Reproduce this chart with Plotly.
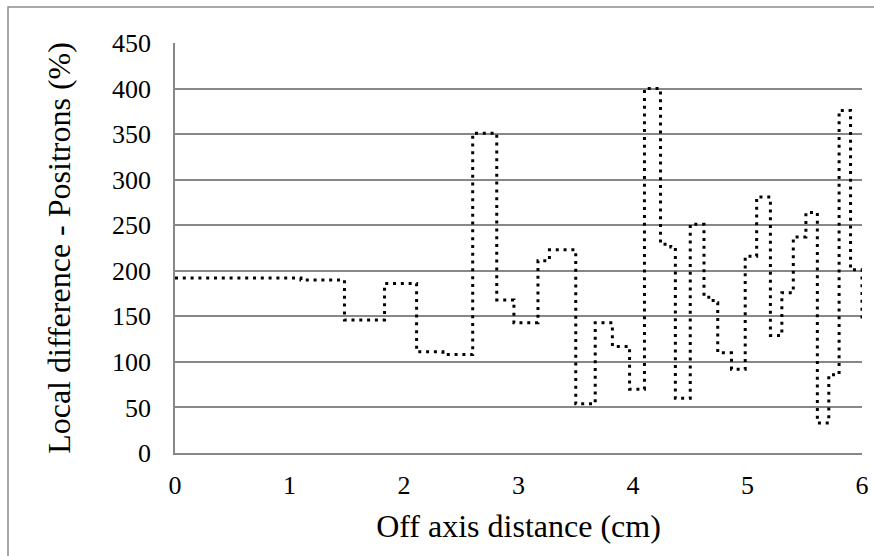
import plotly.graph_objects as go

# Step start positions (cm) and the local difference value (%) for each step
step_x = [0.00, 1.10, 1.48, 1.83, 2.11, 2.34, 2.60, 2.81, 2.96, 3.17, 3.27,
          3.50, 3.67, 3.82, 3.97, 4.10, 4.24, 4.33, 4.37, 4.50, 4.62, 4.70,
          4.74, 4.86, 4.98, 5.08, 5.20, 5.30, 5.40, 5.51, 5.61, 5.71, 5.80,
          5.90, 6.00]
step_y = [192, 190, 146, 186, 111, 108, 351, 168, 143, 211, 223,
          54, 143, 117, 70, 400, 229, 226, 60, 251, 171, 165,
          110, 92, 216, 281, 129, 176, 237, 264, 33, 86, 376,
          201, 146]

x_ticks = [0, 1, 2, 3, 4, 5, 6]
y_ticks = [0, 50, 100, 150, 200, 250, 300, 350, 400, 450]

FONT = "Liberation Serif, Times New Roman, serif"
GRID = "#878787"

W, H = 874, 556
L, T, R, B = 175, 43, 12, 103
PW, PH = W - L - R, H - T - B

fig = go.Figure()
fig.add_trace(go.Scatter(
    x=step_x, y=step_y, mode="lines", line_shape="hv",
    line=dict(color="black", width=3, dash="3px,4.8px"),
    showlegend=False, hoverinfo="skip"))

fig.update_layout(
    width=W, height=H,
    margin=dict(l=L, r=R, t=T, b=B, pad=0, autoexpand=False),
    paper_bgcolor="white", plot_bgcolor="white",
    font=dict(family=FONT, color="black"),
    xaxis=dict(
        range=[0, 6], tickvals=x_ticks, ticktext=[str(v) for v in x_ticks],
        automargin=False,
        showgrid=False, zeroline=False, showline=True, linecolor=GRID, linewidth=1.5,
        tickfont=dict(size=26, family=FONT, color="black"), ticks="",
        ticklabelstandoff=8,
        title=dict(text="Off axis distance (cm)", font=dict(size=32, family=FONT, color="black"),
                   standoff=16),
    ),
    yaxis=dict(
        range=[0, 450], tickvals=y_ticks, ticktext=[str(v) for v in y_ticks],
        automargin=False,
        showgrid=True, gridcolor=GRID, gridwidth=1.5, zeroline=False,
        showline=True, linecolor=GRID, linewidth=1.5,
        tickfont=dict(size=26, family=FONT, color="black"), ticks="",
        ticklabelstandoff=17,
        title=dict(text="Local difference - Positrons (%)", font=dict(size=32, family=FONT, color="black"),
                   standoff=32),
    ),
    shapes=[dict(type="rect", xref="paper", yref="paper",
                 x0=(8 - L) / PW, x1=1.2, y0=-0.4, y1=(H - B - 7) / PH,
                 line=dict(color="#8c8c8c", width=1.5), fillcolor="rgba(0,0,0,0)", layer="below")],
)

fig.write_html("out.html", config={"displayModeBar": False},
               post_script="document.body.style.margin='0';document.body.style.overflow='hidden';")
